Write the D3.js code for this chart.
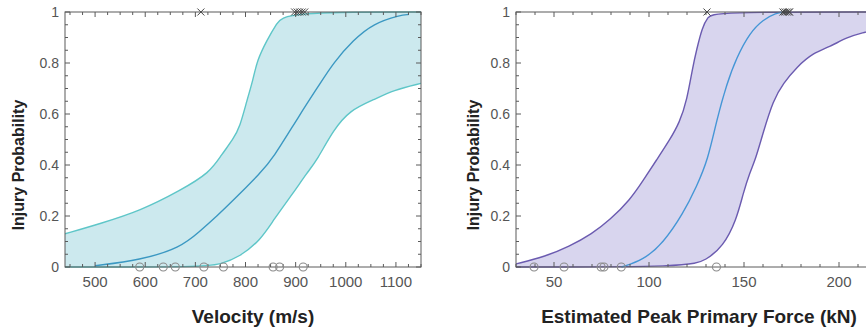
<!DOCTYPE html>
<html>
<head>
<meta charset="utf-8">
<script src="https://cdn.jsdelivr.net/npm/d3@7"></script>
<style>
  body { margin: 0; background: #fff; }
  svg { display: block; font-family: "Liberation Sans", Arial, Helvetica, sans-serif; }
</style>
</head>
<body>
<svg id="chart" width="866" height="330"></svg>
<script>
// ---- velocity panel ----
var velUpperX = [440, 510, 590, 670, 729, 752, 775, 789, 803, 815, 823, 843, 862, 879, 1150];
var velUpperP = [0.13, 0.17, 0.22, 0.30, 0.37, 0.44, 0.50, 0.55, 0.655, 0.733, 0.81, 0.89, 0.955, 1, 1];
var velLowerX = [440, 715, 749, 789, 830, 856, 895, 923, 943, 975, 1009, 1055, 1095, 1150];
var velLowerP = [0, 0, 0.01, 0.04, 0.106, 0.185, 0.29, 0.37, 0.42, 0.537, 0.616, 0.655, 0.694, 0.72];
var velMeanX = [500, 590, 670, 709, 743, 775, 830, 853, 909, 949, 975, 1015, 1055, 1109, 1125];
var velMeanP = [0.005, 0.027, 0.075, 0.14, 0.2, 0.26, 0.37, 0.42, 0.6, 0.72, 0.8, 0.89, 0.955, 0.988, 0.99];
var velInjured = [711, 898, 903, 908, 913, 918];
var velUninjured = [589, 636, 660, 717, 756, 855, 868, 915];
var velTicks = [500, 600, 700, 800, 900, 1000, 1100];

// ---- force panel ----
var forceUpperX = [30, 45, 58, 70, 79.5, 90, 97, 104, 111, 116, 120, 123, 125, 128, 131, 134, 220];
var forceUpperP = [0.012, 0.04, 0.08, 0.13, 0.185, 0.263, 0.34, 0.42, 0.5, 0.565, 0.655, 0.784, 0.85, 0.94, 0.98, 1, 1];
var forceLowerX = [30, 121, 130, 139, 146, 149.6, 153, 156, 160, 165.4, 170.7, 177.7, 186.5, 195, 204, 212.6, 220];
var forceLowerP = [0, 0, 0.027, 0.08, 0.184, 0.29, 0.37, 0.42, 0.525, 0.655, 0.72, 0.784, 0.84, 0.863, 0.9, 0.92, 0.93];
var forceMeanX = [85.5, 97, 107.5, 118, 125, 131, 135.6, 141, 146, 153, 160, 167, 171];
var forceMeanP = [0, 0.027, 0.094, 0.21, 0.315, 0.42, 0.576, 0.72, 0.82, 0.918, 0.97, 0.996, 1];
var forceInjured = [130.5, 170.5, 171.5, 172.5, 173.5, 174];
var forceUninjured = [39.5, 55.3, 74.8, 76.3, 85.4, 135.5];
var forceTicks = [50, 100, 150, 200];

var yTicks = [0, 0.2, 0.4, 0.6, 0.8, 1];
var yTickLabels = ["0", "0.2", "0.4", "0.6", "0.8", "1"];

var svg = d3.select("#chart");
var top0 = 12, bot0 = 267;

function zip(xs, ps) { return xs.map(function(v, i) { return [v, ps[i]]; }); }

function panel(o) {
    var x = d3.scaleLinear().domain(o.domain).range([o.left, o.right]);
    var y = d3.scaleLinear().domain([0, 1]).range([bot0, top0]);
    var g = svg.append("g");
    var id = "clip" + o.name;
    svg.append("clipPath").attr("id", id).append("rect")
        .attr("x", o.left).attr("y", top0 - 1)
        .attr("width", o.right - o.left).attr("height", bot0 - top0 + 2);

    var line = d3.line().x(function(d) { return x(d[0]); }).y(function(d) { return y(d[1]); })
        .curve(d3.curveBasis);
    var upper = zip(o.upperX, o.upperP);
    var lower = zip(o.lowerX, o.lowerP);
    var mean = zip(o.meanX, o.meanP);

    var plot = g.append("g").attr("clip-path", "url(#" + id + ")");
    // band: upper forward, then lower backward
    var upPath = line(upper);
    var lowRev = line(lower.slice().reverse());
    plot.append("path")
        .attr("d", upPath + "L" + lowRev.slice(1) + "Z")
        .attr("fill", o.fill).attr("stroke", "none");
    plot.append("path").attr("d", line(upper)).attr("fill", "none")
        .attr("stroke", o.edge).attr("stroke-width", 1.4);
    plot.append("path").attr("d", line(lower)).attr("fill", "none")
        .attr("stroke", o.edge).attr("stroke-width", 1.4);
    plot.append("path").attr("d", line(mean)).attr("fill", "none")
        .attr("stroke", o.meanColor).attr("stroke-width", 1.4);

    // box + inward ticks on all sides
    var axisColor = "#5a5a5a";
    g.append("rect").attr("x", o.left).attr("y", top0)
        .attr("width", o.right - o.left).attr("height", bot0 - top0)
        .attr("fill", "none").attr("stroke", axisColor).attr("stroke-width", 1);

    var minorX = d3.range(o.minorStart, o.domain[1] + 0.001, o.minorStep);
    var minorY = d3.range(0, 1.0001, 0.05);
    var tk = g.append("g").attr("stroke", axisColor).attr("stroke-width", 1);
    minorX.forEach(function(v) {
        var major = o.ticks.indexOf(Math.round(v)) >= 0;
        var len = major ? 5 : 3;
        tk.append("line").attr("x1", x(v)).attr("x2", x(v)).attr("y1", bot0).attr("y2", bot0 - len);
        tk.append("line").attr("x1", x(v)).attr("x2", x(v)).attr("y1", top0).attr("y2", top0 + len);
    });
    minorY.forEach(function(v) {
        var major = Math.abs(v * 5 - Math.round(v * 5)) < 1e-6;
        var len = major ? 5 : 3;
        tk.append("line").attr("x1", o.left).attr("x2", o.left + len).attr("y1", y(v)).attr("y2", y(v));
        tk.append("line").attr("x1", o.right).attr("x2", o.right - len).attr("y1", y(v)).attr("y2", y(v));
    });

    // tick labels
    o.ticks.forEach(function(v) {
        g.append("text").attr("x", x(v)).attr("y", 287)
            .attr("text-anchor", "middle").attr("font-size", 15).attr("fill", "#555")
            .text(v);
    });
    yTicks.forEach(function(v, i) {
        g.append("text").attr("x", o.left - 6).attr("y", y(v)).attr("dy", "0.36em")
            .attr("text-anchor", "end").attr("font-size", 14).attr("fill", "#555")
            .text(yTickLabels[i]);
    });

    // markers
    o.injured.forEach(function(v) {
        var cx = x(v), cy = y(1), s = 3.5;
        g.append("path").attr("d", "M" + (cx - s) + "," + (cy - s) + "L" + (cx + s) + "," + (cy + s) +
            "M" + (cx - s) + "," + (cy + s) + "L" + (cx + s) + "," + (cy - s))
            .attr("stroke", "#444").attr("stroke-width", 1).attr("fill", "none");
    });
    o.uninjured.forEach(function(v) {
        g.append("circle").attr("cx", x(v)).attr("cy", y(0)).attr("r", 4)
            .attr("fill", "none").attr("stroke", "#8a8a8a").attr("stroke-width", 1.1);
    });

    // titles
    g.append("text").attr("transform", "translate(" + o.yTitleX + ",165) rotate(-90)")
        .attr("text-anchor", "middle").attr("font-size", 16).attr("font-weight", "bold")
        .attr("fill", "#222").text("Injury Probability");
    g.append("text").attr("x", o.xTitleX).attr("y", 323)
        .attr("text-anchor", "middle").attr("font-size", 19).attr("font-weight", "bold")
        .attr("fill", "#222").text(o.xTitle);
}

panel({
    name: "vel", domain: [440, 1150], left: 65, right: 421,
    upperX: velUpperX, upperP: velUpperP, lowerX: velLowerX, lowerP: velLowerP,
    meanX: velMeanX, meanP: velMeanP, injured: velInjured, uninjured: velUninjured,
    ticks: velTicks, minorStart: 450, minorStep: 25,
    fill: "#cce9ee", edge: "#5ec6c8", meanColor: "#3b98c2",
    yTitleX: 24, xTitleX: 253, xTitle: "Velocity (m/s)"
});

panel({
    name: "force", domain: [30, 220], left: 516, right: 877,
    upperX: forceUpperX, upperP: forceUpperP, lowerX: forceLowerX, lowerP: forceLowerP,
    meanX: forceMeanX, meanP: forceMeanP, injured: forceInjured, uninjured: forceUninjured,
    ticks: forceTicks, minorStart: 30, minorStep: 10,
    fill: "#d8d5ee", edge: "#6b5bb0", meanColor: "#4596d6",
    yTitleX: 479, xTitleX: 699, xTitle: "Estimated Peak Primary Force (kN)"
});
</script>
</body>
</html>
